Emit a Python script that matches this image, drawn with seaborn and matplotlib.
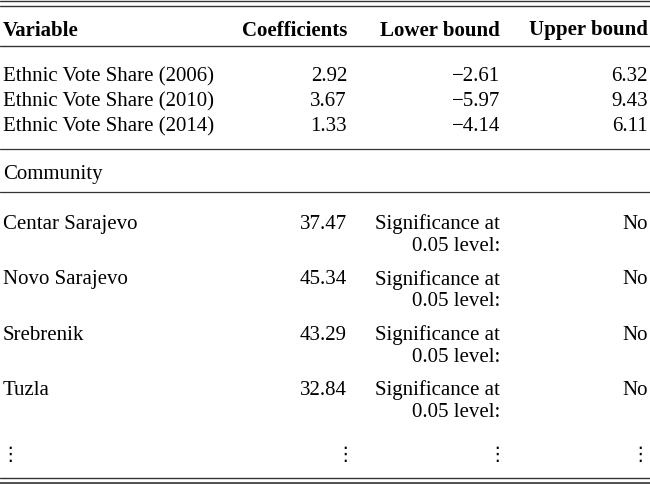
import matplotlib
matplotlib.use("Agg")
import matplotlib.pyplot as plt
import seaborn as sns

headers = ["Variable", "Coefficients", "Lower bound", "Upper bound"]

vote_labels = ["Ethnic Vote Share (2006)", "Ethnic Vote Share (2010)", "Ethnic Vote Share (2014)"]
vote_coef = [2.92, 3.67, 1.33]
vote_lower = [-2.61, -5.97, -4.14]
vote_upper = [6.32, 9.43, 6.11]

section_label = "Community"
communities = ["Centar Sarajevo", "Novo Sarajevo", "Srebrenik", "Tuzla"]
community_coef = [37.47, 45.34, 43.29, 32.84]
community_note = ["Significance at\n0.05 level:"] * 4
community_sig = ["No", "No", "No", "No"]


def fmt(v):
    s = f"{abs(v):.2f}"
    return "\u2212" + s if v < 0 else s


sns.set_theme(style="white")
plt.rcParams["font.family"] = ["Liberation Serif", "DejaVu Serif"]

W, H = 650, 485
fig = plt.figure(figsize=(6.5, 4.85), dpi=100)
ax = fig.add_axes([0, 0, 1, 1])
ax.set_xlim(0, W)
ax.set_ylim(H, 0)
ax.axis("off")

fs = 15
col_x = [3, 347, 500, 648]
col_ha = ["left", "right", "right", "right"]
line_col = "#333333"
dy = 2.5  # text nudge

# rules
for y, lw in [(1.5, 1.0), (6.5, 1.0), (47, 1.0), (150, 0.9), (193, 0.9), (478.5, 1.0), (484, 1.2)]:
    ax.axhline(y, color=line_col, lw=lw)

# header
for x, ha, h in zip(col_x, col_ha, headers):
    ax.text(x, 28 + dy, h, ha=ha, va="center", fontsize=fs, fontweight="bold", color="black")

# vote share rows
for i, (lab, c, lo, up) in enumerate(zip(vote_labels, vote_coef, vote_lower, vote_upper)):
    y = 74 + 25 * i + dy
    for x, ha, t in zip(col_x, col_ha, [lab, fmt(c), fmt(lo), fmt(up)]):
        ax.text(x, y, t, ha=ha, va="center", fontsize=fs, color="black")

ax.text(col_x[0], 172 + dy, section_label, ha="left", va="center", fontsize=fs, color="black")

# community rows
for i, (lab, c, note, sig) in enumerate(zip(communities, community_coef, community_note, community_sig)):
    y = 222 + 55.3 * i + dy
    ax.text(col_x[0], y, lab, ha="left", va="center", fontsize=fs, color="black")
    ax.text(col_x[1], y, fmt(c), ha="right", va="center", fontsize=fs, color="black")
    l1, l2 = note.split("\n")
    ax.text(col_x[2], y, l1, ha="right", va="center", fontsize=fs, color="black")
    ax.text(col_x[2], y + 22, l2, ha="right", va="center", fontsize=fs, color="black")
    ax.text(col_x[3], y, sig, ha="right", va="center", fontsize=fs, color="black")

# continuation dots
dot_x = [0.5, 355, 507, 649.5]
dot_ha = ["left", "right", "right", "right"]
for x, ha in zip(dot_x, dot_ha):
    ax.text(x, 455, "\u22ee", ha=ha, va="center", fontsize=fs - 1,
            color="black", family=["DejaVu Sans"])

fig.savefig("out.png", dpi=100, facecolor="white")
